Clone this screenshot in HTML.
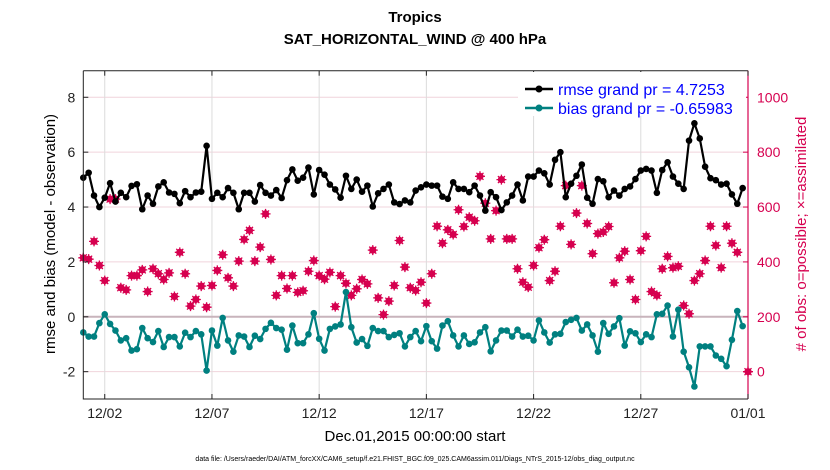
<!DOCTYPE html>
<html><head><meta charset="utf-8"><style>
html,body{margin:0;padding:0;background:#fff;}
svg{display:block;font-family:"Liberation Sans",sans-serif;}
</style></head><body>
<svg id="chart" width="830" height="470" viewBox="0 0 830 470" xmlns="http://www.w3.org/2000/svg">
<text x="415" y="22" text-anchor="middle" font-size="15" font-weight="bold">Tropics</text>
<text x="415" y="44" text-anchor="middle" font-size="15" font-weight="bold">SAT_HORIZONTAL_WIND @ 400 hPa</text>
<g id="grid"></g>
<g id="marks"></g>
<g id="axes"></g>
<text transform="translate(55,234) rotate(-90)" text-anchor="middle" font-size="15">rmse and bias (model - observation)</text>
<text transform="translate(806,234) rotate(-90)" text-anchor="middle" font-size="15" fill="#d6004f"># of obs: o=possible; ×=assimilated</text>
<text x="415" y="441" text-anchor="middle" font-size="15">Dec.01,2015 00:00:00 start</text>
<text x="415" y="461" text-anchor="middle" font-size="7">data file: /Users/raeder/DAI/ATM_forcXX/CAM6_setup/f.e21.FHIST_BGC.f09_025.CAM6assim.011/Diags_NTrS_2015-12/obs_diag_output.nc</text>
<g>
<rect x="518" y="72" width="228" height="44" fill="#fff"/>
<line x1="525" y1="89" x2="553" y2="89" stroke="#000" stroke-width="2.5"/><circle cx="539" cy="89" r="3.5" fill="#000"/>
<text x="558" y="95" font-size="16" fill="#0000ff">rmse grand pr = 4.7253</text>
<line x1="525" y1="108" x2="553" y2="108" stroke="#008080" stroke-width="2.5"/><circle cx="539" cy="108" r="3.5" fill="#008080"/>
<text x="558" y="114" font-size="16" fill="#0000ff">bias grand pr = -0.65983</text>
</g>
</svg>
<script>
const rmse = [5.07,5.25,4.42,4.0,4.34,4.87,4.2,4.52,4.36,4.77, 4.83,3.92,4.42,4.12,4.75,4.9,4.53,4.48,4.14,4.58, 4.36,4.53,4.56,6.23,4.3,4.52,4.36,4.69,4.52,3.92, 4.52,4.52,4.2,4.8,4.52,4.42,4.62,4.33,4.98,5.37,
4.96,5.07,5.44,4.46,5.35,5.18,4.82,4.64,4.34,5.14, 4.66,5.0,4.56,4.78,4.02,4.5,4.66,4.82,4.17,4.11, 4.24,4.17,4.6,4.72,4.82,4.78,4.78,4.38,4.3,4.9, 4.66,4.66,4.54,4.78,4.42,3.87,4.54,4.36,3.89,4.17, 4.42,4.82,
4.24,5.11,5.11,5.33,5.23,4.82,5.72,6.0,4.36,4.85, 5.14,5.55,4.34,4.12,5.02,4.94,4.36,4.6,4.42,4.66, 4.75,5.02,5.33,5.39,5.33,4.52,5.35,5.63,5.11,4.85, 4.66,6.42,7.05,6.5,5.47,5.05,4.98,4.82,4.85,4.46, 4.12,4.69];
const bias = [-0.57,-0.72,-0.72,-0.23,0.09,-0.26,-0.5,-0.86,-0.78,-1.23, -1.18,-0.41,-0.78,-0.92,-0.52,-1.1,-0.74,-0.74,-1.08,-0.58, -0.74,-0.52,-0.64,-1.96,-0.5,-1.05,-0.04,-0.86,-1.27,-0.68, -0.72,-1.1,-0.69,-0.81,-0.44,-0.22,-0.41,-0.47,-1.2,-0.32,
-0.96,-0.96,-0.64,0.13,-0.8,-1.23,-0.44,-0.35,-0.28,0.9, -0.38,-0.94,-0.81,-1.06,-0.41,-0.52,-0.52,-0.74,-0.66,-0.6, -1.08,-0.74,-0.52,-0.89,-0.34,-0.89,-1.16,-0.32,-0.16,-0.68, -1.08,-0.68,-0.99,-0.93,-0.57,-0.38,-1.26,-0.86,-0.5,-0.5, -0.72,-0.47,
-0.72,-0.69,-0.86,-0.13,-0.57,-0.94,-0.64,-0.62,-0.19,-0.11, -0.04,-0.5,-0.28,-0.68,-1.27,-0.23,-0.62,-0.35,-0.05,-1.05, -0.53,-0.6,-0.92,-0.64,-0.74,0.09,0.11,0.41,-0.72,0.26, -1.27,-1.84,-2.54,-1.08,-1.08,-1.08,-1.41,-1.53,-1.8,-0.84, 0.21,-0.34];
const nobs = [415,410,475,387,332,629,629,306,298,350, 350,371,292,375,357,336,360,274,435,357, 239,263,312,235,314,369,426,342,312,403, 482,515,403,454,575,409,278,350,303,350,
289,295,366,405,350,337,362,237,350,322, 278,302,336,320,443,269,208,257,314,478, 381,306,296,326,250,357,530,468,517,500, 590,529,563,550,712,614,484,587,700,484,
484,375,326,308,387,452,481,332,366,530, 678,464,578,678,540,430,503,509,529,324, 415,439,336,263,441,493,292,278,375,420, 379,384,241,211,332,357,405,530,460,379, 530,468,435,null,0];
const xTickDays = [1,6,11,16,21,26,31];
const xTickLabels = ["12/02","12/07","12/12","12/17","12/22","12/27","01/01"];
const yTicks = [-2,0,2,4,6,8];
const y2Ticks = [0,200,400,600,800,1000];

const NS="http://www.w3.org/2000/svg";
const L=83.3,R=748,T=70.7,B=399;
const xDay=d=>L+(R-L)*d/31;
const xIdx=i=>xDay(i*0.25);
const yL=v=>316.8-27.44*v;
const yR=v=>yL((v-200)/100);
function mk(tag,attrs,parent){const e=document.createElementNS(NS,tag);for(const k in attrs)e.setAttribute(k,attrs[k]);parent.appendChild(e);return e;}
const grid=document.getElementById('grid'),marks=document.getElementById('marks'),axes=document.getElementById('axes');
yTicks.forEach(v=>{if(v===0)return;const l=mk('line',{x1:L,x2:R,y1:yL(v),y2:yL(v),stroke:'#f0d4dc','stroke-width':1},grid);

});
xTickDays.forEach(d=>{const l=mk('line',{x1:xDay(d),x2:xDay(d),y1:T,y2:B,stroke:'#dcdcdc','stroke-width':1},grid);

});
const zl=mk('line',{x1:L,x2:R,y1:yL(0),y2:yL(0),stroke:'#c8b4bc','stroke-width':2},grid);


nobs.forEach((v,i)=>{if(v===null)return;const g=mk('g',{},marks);


const x=xIdx(i),y=yR(v);
mk('circle',{cx:x,cy:y,r:3.6,fill:'#d6004f'},g);
mk('path',{d:`M${x-5} ${y}H${x+5}M${x} ${y-5}V${y+5}M${x-3.5} ${y-3.5}L${x+3.5} ${y+3.5}M${x-3.5} ${y+3.5}L${x+3.5} ${y-3.5}`,stroke:'#d6004f','stroke-width':1.3},g);});
function series(arr,color,name){const p=mk('polyline',{points:arr.map((v,i)=>xIdx(i)+','+yL(v)).join(' '),fill:'none',stroke:color,'stroke-width':2.2,'stroke-linejoin':'round'},marks);


arr.forEach((v,i)=>{const c=mk('circle',{cx:xIdx(i),cy:yL(v),r:3.3,fill:color},marks);

});}
series(bias,'#008080','bias');
series(rmse,'#000000','rmse');
const fr=mk('path',{d:`M${L} ${T}H${R}M${L} ${T}V${B}H${R}`,fill:'none',stroke:'#222','stroke-width':1},axes);


const ra=mk('line',{x1:R,x2:R,y1:T,y2:B,stroke:'#d6004f','stroke-width':1.2},axes);


yTicks.forEach(v=>{mk('line',{x1:L,x2:L+5,y1:yL(v),y2:yL(v),stroke:'#222'},axes);
const t=mk('text',{x:L-8,y:yL(v)+5,'text-anchor':'end','font-size':14,fill:'#222'},axes);t.textContent=v;

});
y2Ticks.forEach(v=>{mk('line',{x1:R-5,x2:R,y1:yR(v),y2:yR(v),stroke:'#d6004f'},axes);
const t=mk('text',{x:R+9,y:yR(v)+5,'font-size':14,fill:'#d6004f'},axes);t.textContent=v;

});
xTickDays.forEach((d,i)=>{mk('line',{x1:xDay(d),x2:xDay(d),y1:B-5,y2:B,stroke:'#222'},axes);mk('line',{x1:xDay(d),x2:xDay(d),y1:T,y2:T+5,stroke:'#222'},axes);
const t=mk('text',{x:xDay(d),y:B+19,'text-anchor':'middle','font-size':14,fill:'#222'},axes);t.textContent=xTickLabels[i];

});
</script>
</body></html>
